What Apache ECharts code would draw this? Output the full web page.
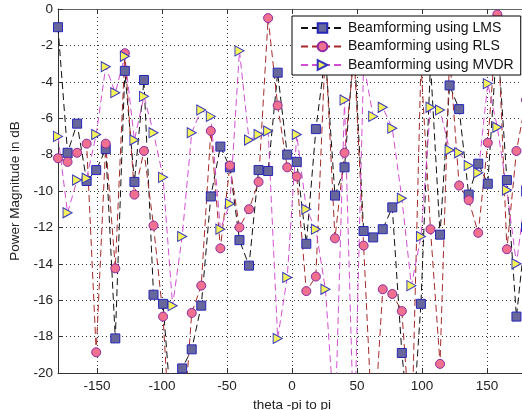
<!DOCTYPE html>
<html><head><meta charset="utf-8">
<script src="https://cdn.jsdelivr.net/npm/echarts@6/dist/echarts.min.js"></script>
<style>html,body{margin:0;padding:0;background:#fff}#c{width:522px;height:410px}</style>
</head><body><div id="c"></div>
<script>
const theta = [-180, -172.65, -165.31, -157.96, -150.61, -143.27, -135.92, -128.57, -121.22, -113.88,
  -106.53, -99.18, -91.84, -84.49, -77.14, -69.80, -62.45, -55.10, -47.76, -40.41,
  -33.06, -25.71, -18.37, -11.02, -3.67, 3.67, 11.02, 18.37, 25.71, 33.06,
  40.41, 47.76, 55.10, 62.45, 69.80, 77.14, 84.49, 91.84, 99.18, 106.53,
  113.88, 121.22, 128.57, 135.92, 143.27, 150.61, 157.96, 165.31, 172.65, 180];
const lms = [-1.0, -7.9, -6.3, -9.45, -8.85, -7.7, -18.1, -3.4, -9.5, -3.9,
  -15.7, -16.2, -23, -19.75, -18.7, -16.3, -10.3, -7.56, -8.7, -12.7,
  -14.1, -8.85, -8.9, -3.5, -8.0, -8.4, -12.9, -6.6, -2.5, -10.25,
  -8.7, -2.0, -12.2, -12.55, -12.1, -10.9, -18.9, -24, -16.2, -3.0,
  -12.4, -4.2, -5.5, -10.2, -8.5, -9.6, -1.5, -9.4, -16.9, -12];
const rls = [-8.2, -8.4, -7.9, -7.4, -18.86, -7.4, -14.25, -2.43, -10.2, -7.8,
  -11.9, -16.9, -26, -24, -16.7, -15.2, -6.7, -13.15, -8.6, -12.0,
  -11.0, -9.5, -0.5, -5.3, -8.7, -9.2, -15.5, -14.7, -2.0, -12.6,
  -7.9, -2.5, -13.0, -24, -15.4, -15.66, -16.6, -24, -3.0, -12.1,
  -19.5, -2.5, -9.7, -10.5, -12.3, -7.35, -0.3, -13.2, -7.8, -5];
const mvdr = [-7.0, -11.2, -9.4, -9.3, -6.9, -3.17, -4.6, -2.6, -7.2, -4.8,
  -6.8, -9.25, -16.3, -12.5, -6.8, -5.55, -5.9, -12.1, -10.7, -2.3,
  -7.2, -6.9, -6.7, -18.1, -14.75, -6.9, -11.0, -12.1, -15.4, -23,
  -5.0, -24, -3, -5.9, -5.4, -6.55, -10.4, -15.2, -12.5, -5.4,
  -5.55, -7.75, -7.9, -8.6, -9.0, -4.1, -6.5, -9.95, -14.0, -10];
const xTicks = [-150, -100, -50, 0, 50, 100, 150];
const seriesNames = ['Beamforming using LMS', 'Beamforming using RLS', 'Beamforming using MVDR'];
const xTitle = 'theta -pi to pi';
const yTitle = 'Power Magnitude in dB';

const pair = arr => arr.map((v, i) => [theta[i], v]);
const FONT = 'Liberation Sans';
const axisCol = '#333';
const chart = echarts.init(document.getElementById('c'), null, {renderer: 'canvas'});
const dash = [7, 4];
chart.setOption({
  animation: false,
  backgroundColor: '#fff',
  grid: {left: 58, top: 9, right: -4, bottom: 37, outerBoundsMode: 'none', containLabel: false},
  legend: {
    left: 292, top: 16, orient: 'vertical',
    padding: [5, 7, 3, 8],
    itemWidth: 43, itemHeight: 12, itemGap: 4.5,
    backgroundColor: '#fff', borderColor: '#000', borderWidth: 1,
    textStyle: {fontFamily: FONT, fontSize: 14, color: '#111', padding: [0, 0, 0, -1]},
    data: seriesNames
  },
  xAxis: [{
    type: 'value', min: -180, max: 180, position: 'bottom',
    name: xTitle, nameLocation: 'middle', nameGap: 23,
    nameTextStyle: {fontFamily: FONT, fontSize: 13.5, color: '#222'},
    axisLine: {show: true, onZero: false, lineStyle: {color: axisCol, width: 1}},
    axisTick: {show: true, inside: true, length: 5, customValues: xTicks, lineStyle: {color: axisCol}},
    axisLabel: {customValues: xTicks, fontFamily: FONT, fontSize: 13.5, color: '#222', margin: 6},
    splitLine: {show: true, lineStyle: {type: [1, 3], color: '#333', width: 1}}
  }, {
    type: 'value', min: -180, max: 180, position: 'top',
    axisLine: {show: true, onZero: false, lineStyle: {color: '#666', width: 1}},
    axisTick: {show: true, inside: true, length: 5, customValues: xTicks, lineStyle: {color: axisCol}},
    axisLabel: {show: false},
    splitLine: {show: false}
  }],
  yAxis: [{
    type: 'value', min: -20, max: 0, interval: 2,
    name: yTitle, nameLocation: 'middle', nameGap: 33,
    nameTextStyle: {fontFamily: FONT, fontSize: 13.5, color: '#222'},
    axisLine: {show: true, onZero: false, lineStyle: {color: axisCol, width: 1}},
    axisTick: {show: true, inside: true, length: 5, lineStyle: {color: axisCol}},
    axisLabel: {fontFamily: FONT, fontSize: 13.5, color: '#222', margin: 5},
    splitLine: {show: true, lineStyle: {type: [1, 3], color: '#333', width: 1}}
  }],
  series: [{
    type: 'line', name: seriesNames[0], data: pair(lms), clip: true,
    symbol: 'rect', symbolSize: 9, showAllSymbol: true,
    itemStyle: {color: '#67679b', borderColor: '#2626b8', borderWidth: 1},
    lineStyle: {color: '#111', width: 1, type: dash}
  }, {
    type: 'line', name: seriesNames[1], data: pair(rls), clip: true,
    symbol: 'circle', symbolSize: 9, showAllSymbol: true,
    itemStyle: {color: '#f0708f', borderColor: '#8a2aa0', borderWidth: 1},
    lineStyle: {color: '#a52a2a', width: 1, type: dash}
  }, {
    type: 'line', name: seriesNames[2], data: pair(mvdr), clip: true,
    symbol: 'path://M0,0 L10,5 L0,10 Z', symbolSize: [9, 10], showAllSymbol: true,
    itemStyle: {color: '#f4f45a', borderColor: '#3535c0', borderWidth: 1},
    lineStyle: {color: '#d24fd2', width: 1, type: dash}
  }]
});
</script></body></html>
